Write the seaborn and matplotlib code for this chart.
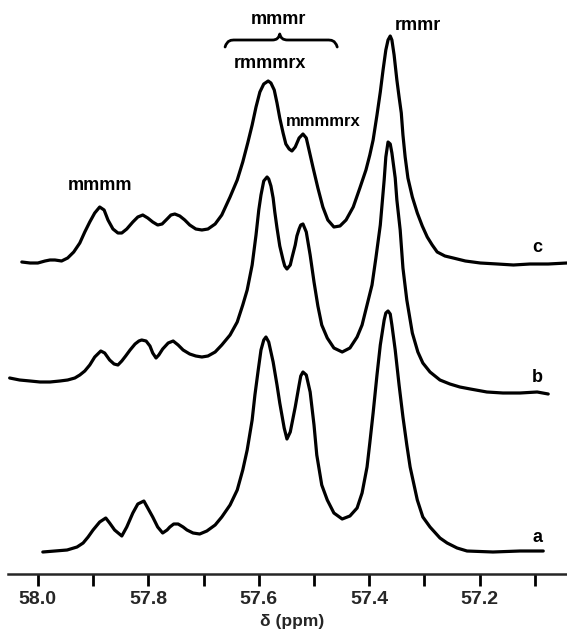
import numpy as np
import pandas as pd
import matplotlib
matplotlib.use("Agg")
import matplotlib.pyplot as plt
from matplotlib.path import Path
from matplotlib.patches import PathPatch
import seaborn as sns

# 13C NMR methyl region, three samples (a, b, c); chemical shift in ppm,
# intensity in arbitrary units relative to each trace's own baseline.
ppm_c = [58.029, 58.014, 58.000, 57.987, 57.978, 57.969, 57.957, 57.946, 57.935, 57.924,
         57.915, 57.906, 57.897, 57.888, 57.880, 57.873, 57.864, 57.855, 57.848, 57.839,
         57.828, 57.819, 57.810, 57.801, 57.792, 57.783, 57.775, 57.766, 57.759, 57.752,
         57.743, 57.734, 57.725, 57.714, 57.703, 57.692, 57.679, 57.667, 57.652, 57.639,
         57.629, 57.620, 57.612, 57.605, 57.598, 57.591, 57.583, 57.578, 57.572, 57.567,
         57.562, 57.556, 57.551, 57.545, 57.540, 57.534, 57.527, 57.520, 57.514, 57.509,
         57.502, 57.493, 57.484, 57.475, 57.464, 57.453, 57.442, 57.429, 57.417, 57.406,
         57.399, 57.393, 57.386, 57.380, 57.375, 57.370, 57.366, 57.362, 57.359, 57.355,
         57.350, 57.346, 57.342, 57.339, 57.335, 57.330, 57.322, 57.313, 57.304, 57.295,
         57.286, 57.277, 57.263, 57.248, 57.226, 57.199, 57.168, 57.139, 57.109, 57.076,
         57.042]
int_c = [2, 1, 1, 3, 4, 4, 3, 6, 12, 21,
         32, 42, 51, 57, 54, 44, 35, 31, 31, 35,
         42, 47, 49, 46, 42, 39, 40, 45, 49, 50,
         48, 44, 39, 35, 34, 35, 40, 49, 67, 84,
         102, 121, 139, 157, 172, 180, 183, 181, 174, 161,
         146, 131, 120, 115, 113, 117, 126, 130, 126, 114,
         97, 76, 57, 44, 37, 38, 44, 57, 76, 94,
         109, 124, 149, 172, 194, 214, 224, 228, 224, 209,
         184, 167, 151, 129, 107, 86, 67, 51, 38, 27,
         19, 12, 8, 6, 3, 1, 0, -1, 0, 0,
         1]

ppm_b = [58.051, 58.033, 58.014, 57.996, 57.978, 57.960, 57.946, 57.933, 57.924, 57.915,
         57.906, 57.897, 57.886, 57.879, 57.870, 57.862, 57.855, 57.848, 57.841, 57.833,
         57.824, 57.817, 57.812, 57.804, 57.797, 57.792, 57.786, 57.781, 57.774, 57.764,
         57.755, 57.746, 57.737, 57.725, 57.714, 57.703, 57.692, 57.679, 57.667, 57.652,
         57.639, 57.629, 57.621, 57.612, 57.605, 57.600, 57.596, 57.591, 57.585, 57.582,
         57.578, 57.574, 57.571, 57.567, 57.562, 57.556, 57.553, 57.549, 57.543, 57.540,
         57.534, 57.531, 57.527, 57.524, 57.520, 57.514, 57.507, 57.500, 57.493, 57.486,
         57.476, 57.464, 57.449, 57.435, 57.422, 57.413, 57.404, 57.395, 57.388, 57.380,
         57.373, 57.370, 57.366, 57.362, 57.359, 57.353, 57.350, 57.344, 57.339, 57.332,
         57.322, 57.312, 57.303, 57.290, 57.272, 57.254, 57.236, 57.217, 57.187, 57.158,
         57.127, 57.096, 57.076]
int_b = [4, 2, 1, 0, 0, 1, 2, 4, 7, 11,
         17, 25, 31, 29, 22, 18, 17, 21, 26, 32,
         38, 41, 42, 41, 36, 29, 24, 27, 33, 39,
         41, 37, 32, 28, 26, 25, 26, 30, 37, 47,
         60, 77, 92, 117, 147, 172, 187, 201, 205, 203,
         196, 184, 170, 154, 136, 122, 116, 113, 117, 124,
         137, 146, 153, 157, 158, 150, 127, 100, 76, 57,
         44, 34, 30, 34, 45, 57, 77, 97, 124, 157,
         202, 225, 240, 238, 229, 204, 182, 152, 114, 82,
         49, 30, 19, 10, 2, -2, -5, -7, -10, -11,
         -11, -10, -12]

ppm_a = [57.991, 57.969, 57.947, 57.929, 57.918, 57.909, 57.900, 57.888, 57.877, 57.870,
         57.861, 57.848, 57.839, 57.828, 57.819, 57.808, 57.801, 57.792, 57.783, 57.774,
         57.766, 57.761, 57.754, 57.746, 57.737, 57.730, 57.719, 57.707, 57.694, 57.679,
         57.667, 57.652, 57.639, 57.629, 57.621, 57.612, 57.607, 57.601, 57.596, 57.591,
         57.587, 57.582, 57.574, 57.567, 57.562, 57.554, 57.549, 57.543, 57.534, 57.527,
         57.524, 57.520, 57.514, 57.507, 57.500, 57.495, 57.486, 57.476, 57.464, 57.449,
         57.435, 57.422, 57.413, 57.404, 57.399, 57.393, 57.386, 57.380, 57.373, 57.370,
         57.366, 57.362, 57.359, 57.353, 57.346, 57.339, 57.332, 57.326, 57.313, 57.303,
         57.290, 57.272, 57.259, 57.241, 57.223, 57.176, 57.127, 57.085]
int_a = [0, 1, 2, 5, 9, 15, 22, 30, 34, 29,
         22, 16, 25, 39, 48, 51, 44, 35, 25, 19,
         22, 25, 28, 28, 25, 22, 19, 18, 21, 27,
         35, 47, 62, 82, 102, 132, 157, 182, 202, 212,
         215, 210, 190, 167, 149, 124, 113, 120, 145, 167,
         176, 180, 177, 160, 127, 97, 67, 52, 39, 33,
         36, 44, 59, 85, 109, 139, 177, 207, 232, 239,
         241, 238, 227, 202, 167, 135, 107, 85, 52, 35,
         25, 14, 9, 4, 1, 0, 1, 1]

trace_names = ["c", "b", "a"]
trace_offsets = {"c": 310, "b": 192, "a": 22}

major_ticks = [58.0, 57.8, 57.6, 57.4, 57.2]
tick_labels = ["58.0", "57.8", "57.6", "57.4", "57.2"]
minor_ticks = [57.9, 57.7, 57.5, 57.3, 57.1]

frames = []
for name, p, v in [("c", ppm_c, int_c), ("b", ppm_b, int_b), ("a", ppm_a, int_a)]:
    frames.append(pd.DataFrame({"ppm": p, "intensity": v, "trace": name}))
spectra = pd.concat(frames, ignore_index=True)
spectra["stacked"] = spectra["intensity"] + spectra["trace"].map(trace_offsets)

sns.set_style("ticks")
plt.rcParams["font.family"] = ["Liberation Sans", "DejaVu Sans"]

fig = plt.figure(figsize=(5.67, 6.34), dpi=100)
ax = fig.add_axes([8 / 567, 60 / 634, 559 / 567, 574 / 634])

for name in trace_names:
    sns.lineplot(data=spectra[spectra["trace"] == name], x="ppm", y="stacked",
                 color="black", linewidth=2.3, estimator=None, sort=False,
                 ax=ax, solid_joinstyle="round", solid_capstyle="round", clip_on=False)

ax.set_xlim(58.054, 57.042)
ax.set_ylim(0, 574)
sns.despine(ax=ax, left=True, top=True, right=True)
ax.spines["bottom"].set_linewidth(1.8)
ax.set_yticks([])
ax.set_ylabel("")

ax.set_xticks(major_ticks + minor_ticks)
ax.set_xticklabels(tick_labels + [""] * len(minor_ticks))
ax.tick_params(axis="x", direction="out", length=8.5, width=2.0, pad=3.5,
               labelsize=14, color="black")
for lbl in ax.get_xticklabels():
    lbl.set_fontweight("bold")

ax.set_xlabel("δ (ppm)", fontsize=12.5, fontweight="bold")
ax.xaxis.set_label_coords(0.508, -0.069)

txt = dict(fontsize=13, fontweight="bold", ha="center", va="center", color="black")
ax.text(57.888, 389, "mmmm", **txt)
ax.text(57.565, 554, "mmmr", **txt)
ax.text(57.580, 511, "rmmmrx", **txt)
ax.text(57.484, 452, "mmmmrx", fontsize=12, fontweight="bold", ha="center",
        va="center", color="black")
ax.text(57.312, 548, "rmmr", **txt)
for name, yv in [("c", 326), ("b", 197), ("a", 37)]:
    ax.text(57.096, yv, name, **txt)

# curly brace grouping the two mmmr pentad signals
brace_verts = [(57.661, 527), (57.657, 534), (57.650, 534), (57.643, 534),
               (57.576, 534),
               (57.567, 534), (57.564, 536), (57.562, 540),
               (57.560, 536), (57.557, 534), (57.547, 534),
               (57.476, 534),
               (57.469, 534), (57.462, 534), (57.458, 527)]
brace_codes = [Path.MOVETO, Path.CURVE4, Path.CURVE4, Path.CURVE4,
               Path.LINETO,
               Path.CURVE4, Path.CURVE4, Path.CURVE4,
               Path.CURVE4, Path.CURVE4, Path.CURVE4,
               Path.LINETO,
               Path.CURVE4, Path.CURVE4, Path.CURVE4]
ax.add_patch(PathPatch(Path(brace_verts, brace_codes), fill=False, lw=2.0,
                       edgecolor="black", capstyle="round", joinstyle="round"))

fig.savefig("out.png", dpi=100, facecolor="white")
